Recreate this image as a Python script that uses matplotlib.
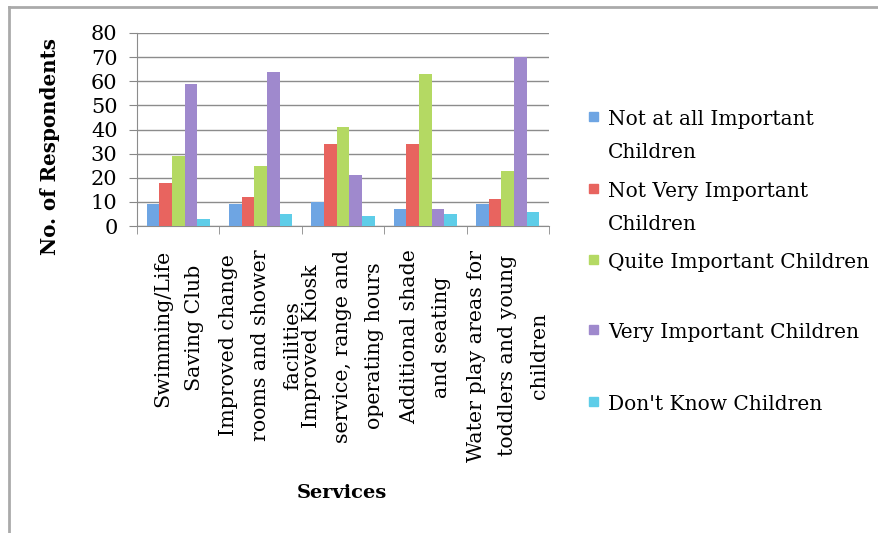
import numpy as np
import matplotlib
matplotlib.use('Agg')
import matplotlib.pyplot as plt
import matplotlib.transforms as mtransforms
from matplotlib.patches import Rectangle
from matplotlib.lines import Line2D

plt.rcParams['font.family'] = ['DejaVu Serif']

# data
services = ['Swimming/Life\nSaving Club',
            'Improved change\nrooms and shower\nfacilities',
            'Improved Kiosk\nservice, range and\noperating hours',
            'Additional shade\nand seating',
            'Water play areas for\ntoddlers and young\nchildren']
series_names = ['Not at all Important\nChildren',
                'Not Very Important\nChildren',
                'Quite Important Children',
                'Very Important Children',
                "Don't Know Children"]
not_at_all = [9, 9, 10, 7, 9]
not_very = [18, 12, 34, 34, 11]
quite = [29, 25, 41, 63, 23]
very = [59, 64, 21, 7, 70]
dont_know = [3, 5, 4, 5, 6]
y_ticks = [0, 10, 20, 30, 40, 50, 60, 70, 80]

colors = ['#6ea5e3', '#e8645f', '#b4d963', '#9f89cd', '#5ecde8']
values = [not_at_all, not_very, quite, very, dont_know]

W, H = 879, 533
fig = plt.figure(figsize=(W / 100, H / 100), dpi=100)
ax = fig.add_axes([137 / W, 1 - 226 / H, 412 / W, 193 / H])

x = np.arange(len(services))
bw = 0.153
for i, (vals, c) in enumerate(zip(values, colors)):
    ax.bar(x + (i - 2) * bw, vals, width=bw, color=c, zorder=3)

ax.set_xlim(-0.5, len(services) - 0.5)
ax.set_ylim(0, 80)
ax.set_yticks(y_ticks)
ax.set_yticklabels([str(t) for t in y_ticks], fontsize=15)
ax.set_xticks(x)
ax.set_xticklabels(services, rotation=90, fontsize=14.8, ha='center', va='top',
                   multialignment='center', linespacing=1.85)
# labels sit a few pixels right of the group centre in the original
shift = mtransforms.ScaledTranslation(4 / 100, 0, fig.dpi_scale_trans)
for lbl in ax.get_xticklabels():
    lbl.set_transform(lbl.get_transform() + shift)
ax.set_xticks(np.arange(len(services) + 1) - 0.5, minor=True)
ax.tick_params(axis='x', which='major', length=0, pad=17)
ax.tick_params(axis='x', which='minor', length=6, color='#888888')
ax.tick_params(axis='y', length=6, color='#888888', pad=8)
ax.yaxis.grid(True, color='#8c8c8c', linewidth=1, zorder=0)
for s in ['top', 'right']:
    ax.spines[s].set_visible(False)
for s in ['left', 'bottom']:
    ax.spines[s].set_color('#8c8c8c')

ax.set_ylabel('No. of Respondents', fontsize=14.3, fontweight='bold')
ax.yaxis.set_label_coords(-0.187, 0.41)
ax.set_xlabel('Services', fontsize=14, fontweight='bold')
ax.xaxis.set_label_coords(0.497, -1.337)

# legend drawn by hand so entries keep the reference's even spacing
legend_top = [110, 182, 253, 323, 395]
for name, c, yt in zip(series_names, colors, legend_top):
    fig.patches.append(Rectangle((589 / W, 1 - (yt + 11) / H), 9 / W, 9 / H,
                                 transform=fig.transFigure, color=c))
    fig.text(608 / W, 1 - yt / H, name, fontsize=14.5, va='top', ha='left',
             linespacing=1.9)

# frame lines at top and left
fig.add_artist(Line2D([9 / W, 1], [1 - 7 / H, 1 - 7 / H], color='#aaaaaa', lw=2,
                      transform=fig.transFigure))
fig.add_artist(Line2D([9 / W, 9 / W], [0, 1 - 7 / H], color='#aaaaaa', lw=2,
                      transform=fig.transFigure))

fig.savefig('out.png', dpi=100)
